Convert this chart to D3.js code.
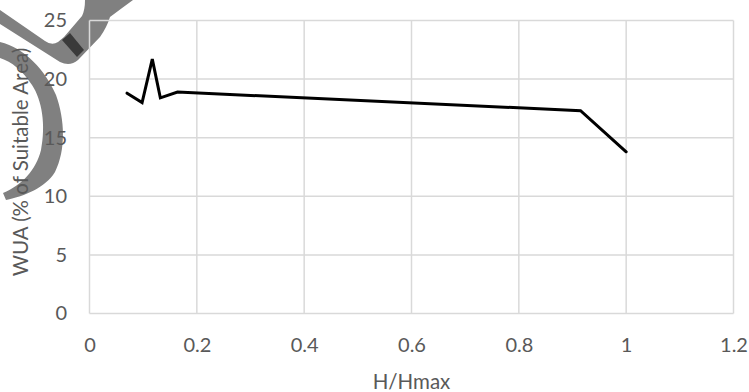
<!DOCTYPE html>
<html>
<head>
<meta charset="utf-8">
<script src="https://cdn.jsdelivr.net/npm/d3@7"></script>
<style>
  html, body { margin: 0; padding: 0; background: #fff; }
  svg { display: block; }
  text { font-family: "Lato", "Liberation Sans", sans-serif; }
</style>
</head>
<body>
<svg id="chart" width="749" height="392"></svg>
<script>
// ---- data ----
const hRatio = [0.070, 0.098, 0.117, 0.132, 0.164, 0.915, 1.000];
const wua    = [18.8, 18.0, 21.7, 18.4, 18.9, 17.3, 13.8];
const xTicks = [0, 0.2, 0.4, 0.6, 0.8, 1, 1.2];
const yTicks = [0, 5, 10, 15, 20, 25];
const xTitle = "H/Hmax";
const yTitle = "WUA (% of Suitable Area)";

const svg = d3.select("#chart");
const W = 749, H = 392;
const m = { left: 89.5, right: W - 733.5, top: 20.5, bottom: H - 313.5 };

const x = d3.scaleLinear().domain([0, 1.2]).range([m.left, W - m.right]);
const y = d3.scaleLinear().domain([0, 25]).range([H - m.bottom, m.top]);

const grid = "#d9d9d9", textCol = "#595959";

// decorative overlay (grey shapes in the top-left corner of the original picture), drawn under the text
const deco = svg.append("g");
deco.append("path")
  .attr("d", "M0,10 L45,41 Q52,46 58,42 L64,37 L82,16 Q85,10 85,0 L133,0 Q122,8 110,17 Q107,27 100,37 L78,60 Q70,67 60,62 L0,24 Z")
  .attr("fill", "#808080");
deco.append("path")
  .attr("d", "M62,40 L70,33 L84,50 L77,57 Z").attr("fill", "#3a3a3a");
deco.append("path")
  .attr("d", "M0,42 C25,48 45,70 56,95 C65,120 66,150 55,172 C45,188 25,196 6,200 L3,193 C22,185 36,170 41,150 C46,125 42,100 32,85 C22,70 12,62 0,58 Z")
  .attr("fill", "#808080");

// gridlines
svg.append("g").selectAll("line").data(xTicks).join("line")
  .attr("x1", d => x(d)).attr("x2", d => x(d))
  .attr("y1", y(0)).attr("y2", y(25))
  .attr("stroke", grid).attr("stroke-width", 1.5);
svg.append("g").selectAll("line").data(yTicks).join("line")
  .attr("x1", x(0)).attr("x2", x(1.2))
  .attr("y1", d => y(d)).attr("y2", d => y(d))
  .attr("stroke", grid).attr("stroke-width", 1.5);

// axes labels via d3 axes
const xAxis = svg.append("g").attr("transform", `translate(0,${y(0)})`)
  .call(d3.axisBottom(x).tickValues(xTicks).tickSize(0).tickPadding(24).tickFormat(d3.format("")));
const yAxis = svg.append("g").attr("transform", `translate(${x(0)},0)`)
  .call(d3.axisLeft(y).tickValues(yTicks).tickSize(0).tickPadding(22.5));
[xAxis, yAxis].forEach(a => {
  a.select(".domain").remove();
  a.selectAll("text").attr("fill", textCol).style("font-size", "20px");
});

// line
const line = d3.line().x((d, i) => x(hRatio[i])).y(d => y(d));
svg.append("path").datum(wua)
  .attr("d", line)
  .attr("fill", "none").attr("stroke", "#000").attr("stroke-width", 3)
  .attr("stroke-linejoin", "miter").attr("stroke-linecap", "round");

// titles
svg.append("text").attr("x", (x(0) + x(1.2)) / 2).attr("y", 389)
  .attr("text-anchor", "middle").attr("fill", textCol).style("font-size", "20.5px").text(xTitle);
svg.append("text")
  .attr("transform", `translate(28,162) rotate(-90)`)
  .attr("text-anchor", "middle").attr("fill", textCol).style("font-size", "20.5px").text(yTitle);
</script>
</body>
</html>
